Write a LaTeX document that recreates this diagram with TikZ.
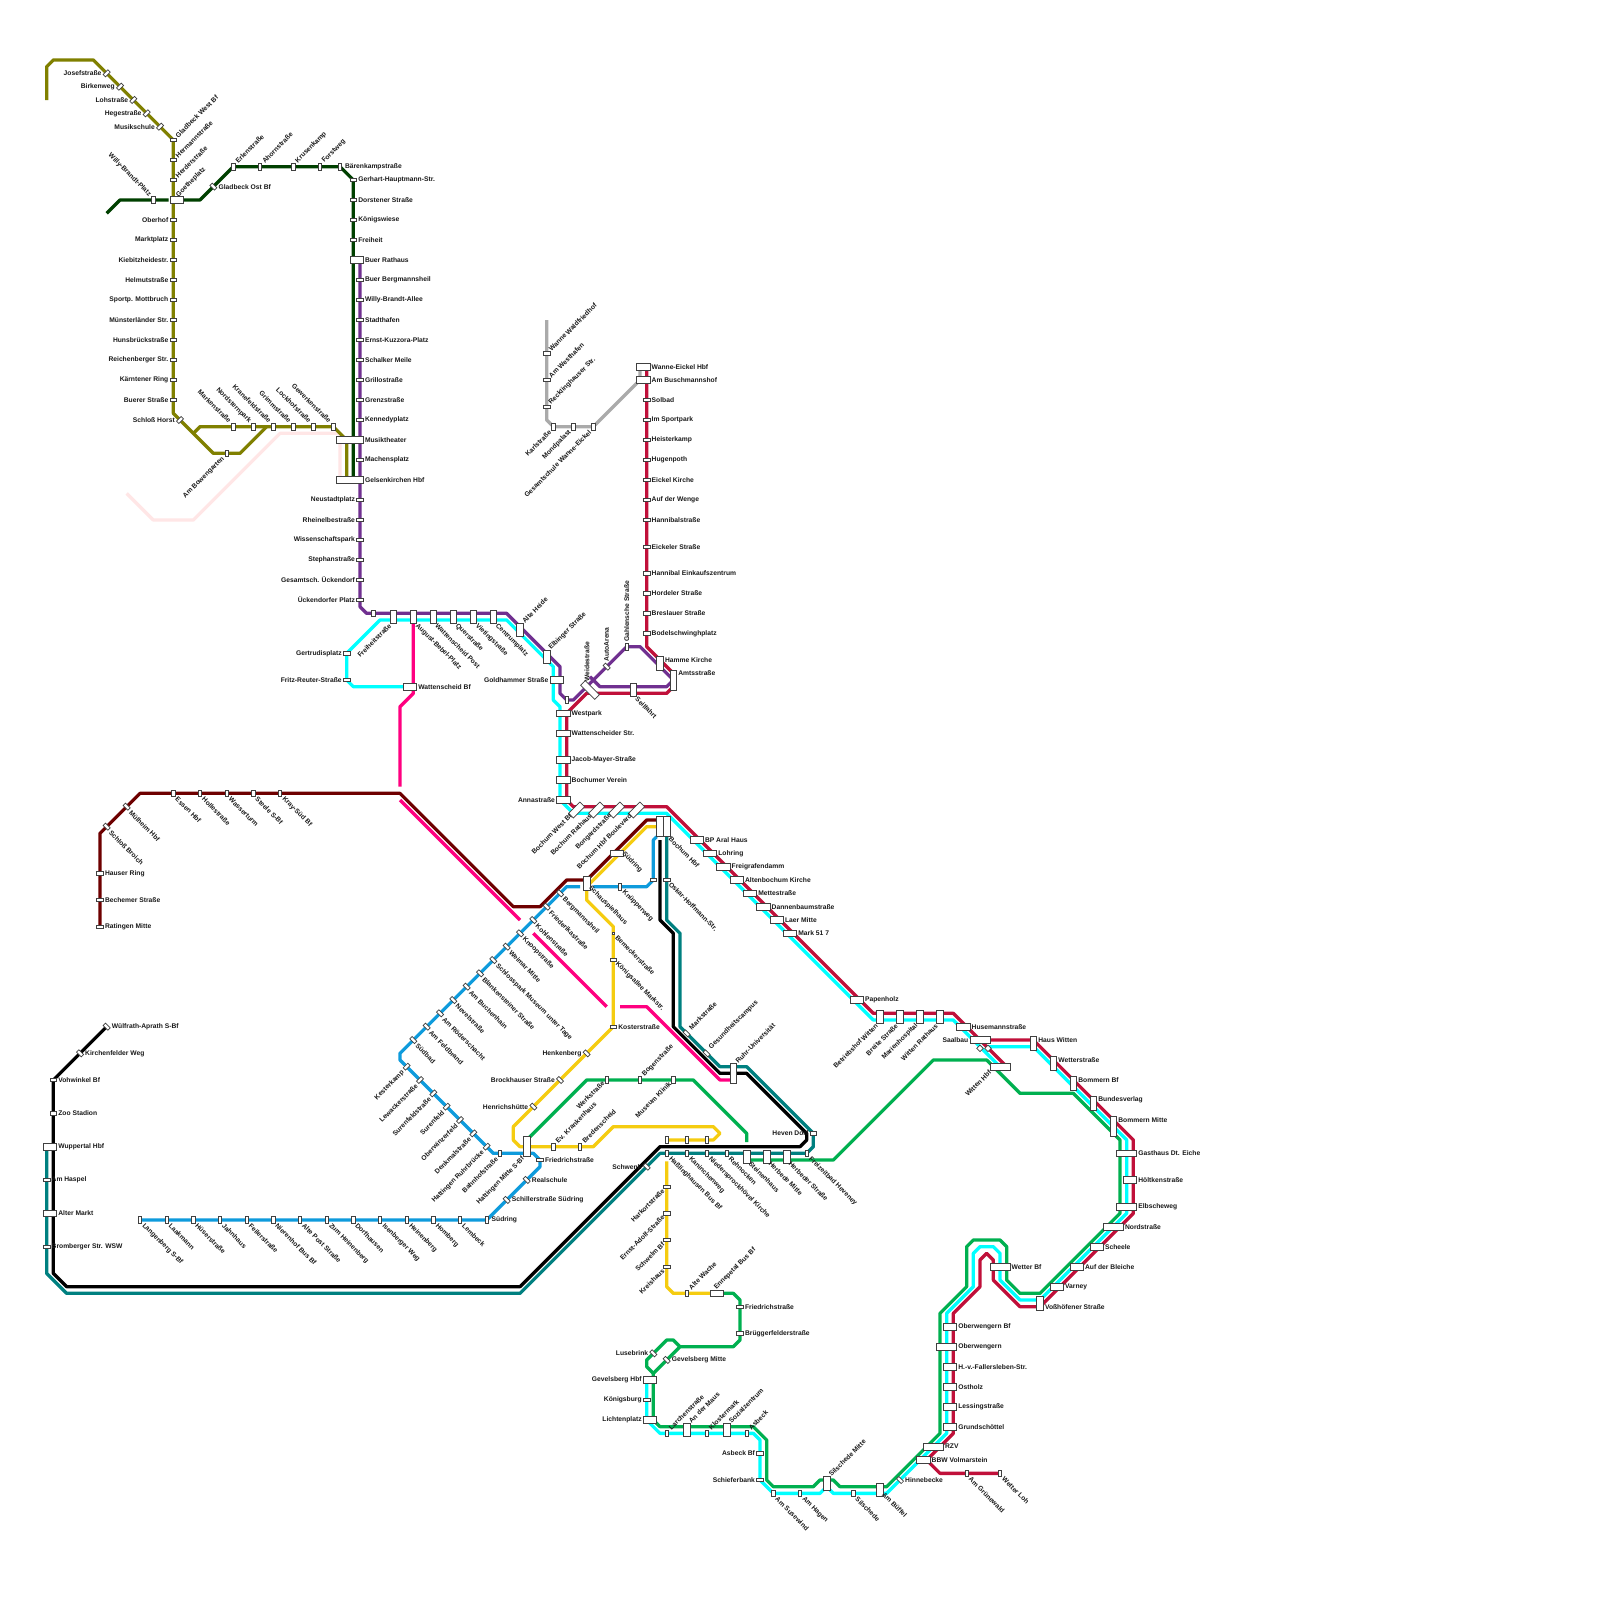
\documentclass[tikz,border=0pt]{standalone}
\usepackage{fontspec}
\setmainfont{Liberation Sans}
\definecolor{cOlive}{HTML}{808000}
\definecolor{cDkGreen}{HTML}{004000}
\definecolor{cPurple}{HTML}{703090}
\definecolor{cCrim}{HTML}{C0103A}
\definecolor{cCyan}{HTML}{00FFFF}
\definecolor{cGreen}{HTML}{00B050}
\definecolor{cYellow}{HTML}{F5CC10}
\definecolor{cBlue}{HTML}{0E9BDC}
\definecolor{cMag}{HTML}{FF0080}
\definecolor{cMaroon}{HTML}{6E0000}
\definecolor{cTeal}{HTML}{008080}
\definecolor{cGray}{HTML}{AAAAAA}
\definecolor{cPink}{HTML}{FFE6E6}
\tikzset{
  tk/.style={line width=3.3pt,line join=round},
  stn/.style={draw=black!75,fill=white,line width=.7pt,inner sep=0pt,outer sep=0pt},
  lbl/.style={font=\fontsize{6.72}{8}\selectfont\bfseries,text=black!90,inner sep=0pt,outer sep=0pt}
}
\newcount\stnum
\def\ldx{0}\def\ldy{0}
\newcommand\adj[2]{\def\ldx{#1}\def\ldy{#2}}
\newcommand\st[7]{%
  \global\advance\stnum by 1
  \node[stn,minimum width=#1*6.667pt,minimum height=#2*6.667pt,rotate=#3] (n\the\stnum) at (#4,#5) {};
  \pgfmathsetmacro\hx{(#3==0)?#1*3.333:(#1+#2)*2.357}
  \pgfmathsetmacro\hy{(#3==0)?#2*3.333:(#1+#2)*2.357}
  \pgfmathsetmacro\ox{max(\hx,3.3)}
  \pgfmathsetmacro\oy{max(\hy+1.5,3.3)}
  \pgfmathsetmacro\rx{max(\hx+1.7,5)}
  \pgfmathsetmacro\lxx{#4+\ldx}
  \pgfmathsetmacro\lyy{#5+\ldy}
  \csname lab#6\endcsname{\lxx}{\lyy}{#7}%
  \def\ldx{0}\def\ldy{0}}
\newcommand\labN[3]{}
\newcommand\labR[3]{\node[lbl,xshift=\rx pt,anchor=west] (l\the\stnum) at (#1,#2) {#3};}
\newcommand\labL[3]{\node[lbl,xshift=-\rx pt,anchor=east] (l\the\stnum) at (#1,#2) {#3};}
\newcommand\labUR[3]{\node[lbl,xshift=\ox pt,yshift=\oy pt,rotate=45,anchor=west] (l\the\stnum) at (#1,#2) {#3};}
\newcommand\labDR[3]{\node[lbl,xshift=\ox pt,yshift=-\oy pt,rotate=-45,anchor=west] (l\the\stnum) at (#1,#2) {#3};}
\newcommand\labDL[3]{\node[lbl,xshift=-\ox pt,yshift=-\oy pt,rotate=45,anchor=east] (l\the\stnum) at (#1,#2) {#3};}
\newcommand\labUL[3]{\node[lbl,xshift=-\ox pt,yshift=\oy pt,rotate=-45,anchor=east] (l\the\stnum) at (#1,#2) {#3};}
\newcommand\labUP[3]{\node[lbl,yshift=\oy pt,rotate=90,anchor=west] (l\the\stnum) at (#1,#2) {#3};}
\newcommand\sH[4]{\st{1}{.5}{0}{#1}{#2}{#3}{#4}}
\newcommand\sV[4]{\st{.5}{1}{0}{#1}{#2}{#3}{#4}}
\newcommand\sA[4]{\st{1}{.5}{45}{#1}{#2}{#3}{#4}}
\newcommand\sB[4]{\st{1}{.5}{-45}{#1}{#2}{#3}{#4}}
\newcommand\wB[4]{\st{2}{1}{0}{#1}{#2}{#3}{#4}}
\newcommand\wC[4]{\st{3}{1}{0}{#1}{#2}{#3}{#4}}
\newcommand\wD[4]{\st{4}{1}{0}{#1}{#2}{#3}{#4}}
\newcommand\vB[4]{\st{1}{2}{0}{#1}{#2}{#3}{#4}}
\newcommand\vC[4]{\st{1}{3}{0}{#1}{#2}{#3}{#4}}
\begin{document}
\begin{tikzpicture}[x=6.6667pt,y=-6.6667pt]
\useasboundingbox (0,0) rectangle (240,240);
\fill[white] (0,0) rectangle (240,240);
% ---------- lines
\draw[tk,cPink] (19,74)--(23,78)--(29,78)--(42,65)--(51,65)--(51,72);
\draw[tk,cGray] (82,48)--(82,63)--(83,64)--(89,64)--(96,57)--(96,55);
\draw[tk,cDkGreen] (16,32)--(18,30)--(25.3,30);
\draw[tk,cDkGreen] (27,30)--(30,30)--(35,25)--(51,25)--(53,27)--(53,72);
\draw[tk,cOlive] (7,15)--(7,10)--(8,9)--(14,9)--(26,21)--(26,62)--(32,68)--(36,68)--(40,64);
\draw[tk,cOlive] (29,65)--(30,64)--(50,64)--(52,66)--(52,72);
\draw[tk,cPurple] (54,39)--(54,91)--(55,92)--(76,92)--(84,100)--(84,104)--(85,105)--(86,105)--(94,97)--(96,97)--(101,102)--(100,103)--(90,103)--(88.5,101.5);
\draw[tk,cCyan] (60.5,103)--(53,103)--(52,102)--(52,98)--(57,93)--(76,93)--(83,100)--(83,105)--(84,106)--(84,120)--(86,122)--(100,122)--(131,153)--(143,153)--(150.5,160.5);
\draw[tk,cCyan] (148,157)--(155,157)--(169,171)--(169,182)--(156,195)--(153,195)--(150,192)--(150,188)--(149,187)--(147,187)--(146,188)--(146,193)--(142,197)--(142,215)--(133,224)--(125,224)--(124,223)--(123,224)--(116,224)--(114,222)--(114,216)--(113,215)--(99,215)--(97,213)--(97,207);
\draw[tk,cCrim] (97,55)--(97,97)--(101,101)--(101,103)--(100,104)--(88,104)--(85,107)--(85,120)--(86,121)--(100,121)--(131,152)--(143,152)--(151,160);
\draw[tk,cCrim] (148,156)--(155,156)--(170,171)--(170,182)--(156,196)--(153,196)--(149,192)--(149,189)--(148,188)--(147,189)--(147,193)--(143,197)--(143,215)--(139,219)--(141,221)--(150,221);
\draw[tk,cGreen] (106.5,194)--(110,194)--(111,195)--(111,201)--(110,202)--(102,202)--(98,206)--(98,213)--(99,214)--(113,214)--(115,216)--(115,222)--(116,223)--(122,223)--(123,222)--(125,222)--(126,223)--(133,223)--(141,215)--(141,197)--(145,193)--(145,187)--(146,186)--(150,186)--(151,187)--(151,192)--(153,194)--(156,194)--(168,182)--(168,171)--(161,164)--(153,164)--(148,159)--(140,159)--(125,174)--(112,174);
\draw[tk,cGreen] (98,206)--(97,205)--(97,204)--(100,201)--(101,201)--(102,202);
\draw[tk,cGreen] (79,171)--(88,162)--(104,162)--(112,170)--(112,171.3);
\draw[tk,cMaroon] (15,139)--(15,125)--(21,119)--(60,119)--(77,136)--(81,136)--(85,132)--(88,132)--(97,123)--(98.5,123);
\draw[tk,cMag] (62,93.5)--(62,104)--(60,106)--(60,118);
\draw[tk,cMag] (60,120)--(78,138);
\draw[tk,cMag] (80,140)--(91,151);
\draw[tk,cMag] (93,151)--(97,151)--(108,162)--(109.5,162);
\draw[tk,cYellow] (98.5,124)--(97,124)--(88,133)--(88,135)--(92,139)--(92,154)--(77,169)--(77,171)--(78,172)--(89,172)--(92,169)--(107,169)--(108,170)--(107,171)--(100,171);
\draw[tk,cYellow] (100,174.2)--(100,193)--(101,194)--(106.5,194);
\draw[tk,cBlue] (98.5,125.5)--(98,126)--(98,132)--(97,133)--(89,133);
\draw[tk,cBlue] (87,133)--(85,133)--(60,158)--(60,159)--(74,173)--(80,173)--(81,174)--(81,175)--(73,183)--(21,183);
\draw[tk,cTeal] (100,125)--(100,138)--(102,140)--(102,154)--(108,160)--(112,160)--(122,170)--(122,172)--(121,173)--(99,173)--(78,194)--(10,194)--(7,191)--(7,172);
\draw[tk,black] (99,126)--(99,138)--(101,140)--(101,154)--(108,161)--(112,161)--(121,170)--(121,171)--(120,172)--(99,172)--(78,193)--(10,193)--(8,191)--(8,162)--(16,154);
% ---------- olive
\sA{16}{11}{L}{Josefstraße}
\sA{18}{13}{L}{Birkenweg}
\sA{20}{15}{L}{Lohstraße}
\sA{22}{17}{L}{Hegestraße}
\sA{24}{19}{L}{Musikschule}
\sH{26}{21}{UR}{Gladbeck West Bf}
\sH{26}{24}{UR}{Hermannstraße}
\sH{26}{27}{UR}{Herderstraße}
\adj{-.9}{.1}\wB{26.5}{30}{UR}{Goetheplatz}
\sV{23}{30}{UL}{Willy-Brandt-Platz}
\sH{26}{33}{L}{Oberhof}
\sH{26}{36}{L}{Marktplatz}
\sH{26}{39}{L}{Kiebitzheidestr.}
\sH{26}{42}{L}{Helmutstraße}
\sH{26}{45}{L}{Sportp. Mottbruch}
\sH{26}{48}{L}{Münsterländer Str.}
\sH{26}{51}{L}{Hunsbrückstraße}
\sH{26}{54}{L}{Reichenberger Str.}
\sH{26}{57}{L}{Kärntener Ring}
\sH{26}{60}{L}{Buerer Straße}
\sA{27}{63}{L}{Schloß Horst}
\sV{35}{64}{UL}{Markenstraße}
\sV{38}{64}{UL}{Nordsternpark}
\sV{41}{64}{UL}{Kranefeldstraße}
\sV{44}{64}{UL}{Grimmstraße}
\sV{47}{64}{UL}{Lockhofstraße}
\sV{50}{64}{UL}{Gewerkenstraße}
\sV{34}{68}{DL}{Am Bowengarten}
% ---------- dark green
\sB{32}{28}{R}{Gladbeck Ost Bf}
\sV{35}{25}{UR}{Erlenstraße}
\sV{39}{25}{UR}{Ahornstraße}
\sV{44}{25}{UR}{Krusenkamp}
\sV{48}{25}{UR}{Forstweg}
\sV{51}{25}{R}{Bärenkampstraße}
\sH{53}{27}{R}{Gerhart-Hauptmann-Str.}
\sH{53}{30}{R}{Dorstener Straße}
\sH{53}{33}{R}{Königswiese}
\sH{53}{36}{R}{Freiheit}
\wB{53.5}{39}{R}{Buer Rathaus}
% ---------- purple
\sH{54}{42}{R}{Buer Bergmannsheil}
\sH{54}{45}{R}{Willy-Brandt-Allee}
\sH{54}{48}{R}{Stadthafen}
\sH{54}{51}{R}{Ernst-Kuzzora-Platz}
\sH{54}{54}{R}{Schalker Meile}
\sH{54}{57}{R}{Grillostraße}
\sH{54}{60}{R}{Grenzstraße}
\sH{54}{63}{R}{Kennedyplatz}
\wD{52.5}{66}{R}{Musiktheater}
\sH{54}{69}{R}{Machensplatz}
\wD{52.5}{72}{R}{Gelsenkirchen Hbf}
\sH{54}{75}{L}{Neustadtplatz}
\sH{54}{78}{L}{Rheinelbestraße}
\sH{54}{81}{L}{Wissenschaftspark}
\sH{54}{84}{L}{Stephanstraße}
\sH{54}{87}{L}{Gesamtsch. Ückendorf}
\sH{54}{90}{L}{Ückendorfer Platz}
\sV{56}{92}{N}{}
\vB{59}{92.5}{DL}{Freiheitstraße}
\vB{62}{92.5}{DR}{August-Bebel-Platz}
\vB{65}{92.5}{DR}{Wattenscheid Post}
\vB{68}{92.5}{DR}{Querstraße}
\vB{71}{92.5}{DR}{Vietingstraße}
\vB{74}{92.5}{DR}{Centrumplatz}
\vB{78}{94.5}{UR}{Alte Heide}
\vB{82}{98.5}{UR}{Elbinger Straße}
\wB{83.5}{102}{L}{Goldhammer Straße}
\sV{85}{105}{N}{}
\adj{-.45}{.4}\st{3}{1}{-45}{88.5}{103.5}{UP}{Weidestraße}
\sB{91}{100}{UP}{AutoArena}
\sV{94}{97}{UP}{Gahlensche Straße}
\vB{95}{103.5}{DR}{Seilfahrt}
\adj{0}{-.5}\vB{99}{99.5}{R}{Hamme Kirche}
\adj{0}{-1}\vC{101}{102}{R}{Amtsstraße}
\sH{52}{98}{L}{Gertrudisplatz}
\sH{52}{102}{L}{Fritz-Reuter-Straße}
\wB{61.5}{103}{R}{Wattenscheid Bf}
% ---------- gray, crimson north
\sH{82}{53}{UR}{Wanne Waldfriedhof}
\sH{82}{57}{UR}{Am Westhafen}
\sH{82}{61}{UR}{Recklinghauser Str.}
\sV{83}{64}{DL}{Karlstraße}
\sV{86}{64}{DL}{Mondpalast}
\sV{89}{64}{DL}{Gesamtschule Wanne-Eickel}
\wB{96.5}{55}{R}{Wanne-Eickel Hbf}
\wB{96.5}{57}{R}{Am Buschmannshof}
\sH{97}{60}{R}{Solbad}
\sH{97}{63}{R}{Im Sportpark}
\sH{97}{66}{R}{Heisterkamp}
\sH{97}{69}{R}{Hugenpoth}
\sH{97}{72}{R}{Eickel Kirche}
\sH{97}{75}{R}{Auf der Wenge}
\sH{97}{78}{R}{Hannibalstraße}
\sH{97}{82}{R}{Eickeler Straße}
\sH{97}{86}{R}{Hannibal Einkaufszentrum}
\sH{97}{89}{R}{Hordeler Straße}
\sH{97}{92}{R}{Breslauer Straße}
\sH{97}{95}{R}{Bodelschwinghplatz}
% ---------- Bochum
\wB{84.5}{107}{R}{Westpark}
\wB{84.5}{110}{R}{Wattenscheider Str.}
\wB{84.5}{114}{R}{Jacob-Mayer-Straße}
\wB{84.5}{117}{R}{Bochumer Verein}
\wB{84.5}{120}{L}{Annastraße}
\adj{.3}{-.7}\st{2.4}{1}{45}{86.5}{121.5}{DL}{Bochum West Bf}
\adj{.3}{-.7}\st{2.4}{1}{45}{89.5}{121.5}{DL}{Bochum Rathaus}
\adj{.3}{-.7}\st{2.4}{1}{45}{92.5}{121.5}{DL}{Bongardstraße}
\adj{.3}{-.7}\st{2.4}{1}{45}{95.5}{121.5}{DL}{Bochum Hbf Boulevard}
\vC{99}{124}{N}{}
\vC{100}{124}{DR}{Bochum Hbf}
\adj{0}{-.7}\wB{92.5}{128}{DR}{Südring}
\adj{0}{-.6}\vB{88}{132.5}{DR}{Schauspielhaus}
\sV{93}{133}{DR}{Knüpperweg}
\sH{98}{132}{N}{}
\sH{100}{132}{DR}{Oskar-Hoffmann-Str.}
\wB{104.5}{126}{R}{BP Aral Haus}
\wB{106.5}{128}{R}{Lohring}
\wB{108.5}{130}{R}{Freigrafendamm}
\wB{110.5}{132}{R}{Altenbochum Kirche}
\wB{112.5}{134}{R}{Mettestraße}
\wB{114.5}{136}{R}{Dannenbaumstraße}
\wB{116.5}{138}{R}{Laer Mitte}
\wB{118.5}{140}{R}{Mark 51 7}
\wB{128.5}{150}{R}{Papenholz}
\vB{132}{152.5}{DL}{Betriebshof Witten}
\vB{135}{152.5}{DL}{Breite Straße}
\vB{138}{152.5}{DL}{Marienhospital}
\vB{141}{152.5}{DL}{Witten Rathaus}
\wB{144.5}{154}{R}{Husemannstraße}
\st{.7}{.7}{45}{147}{157.25}{N}{}
\st{.7}{.7}{45}{148.2}{157.25}{N}{}
\wC{147}{156}{L}{Saalbau}
\wC{150}{160}{DL}{Witten Hbf}
\adj{0}{-.5}\vB{155}{156.5}{R}{Haus Witten}
\adj{0}{-.5}\vB{158}{159.5}{R}{Wetterstraße}
\adj{0}{-.5}\vB{161}{162.5}{R}{Bommern Bf}
\adj{0}{-.5}\vB{164}{165.5}{R}{Bundesverlag}
\adj{0}{-1}\vC{167}{169}{R}{Bommern Mitte}
\wC{169}{173}{R}{Gasthaus Dt. Eiche}
\wB{169.5}{177}{R}{Höltkenstraße}
\wC{169}{181}{R}{Elbscheweg}
\wC{167}{184}{R}{Nordstraße}
\wB{164.5}{187}{R}{Scheele}
\wB{161.5}{190}{R}{Auf der Bleiche}
\wB{158.5}{193}{R}{Varney}
\adj{0}{.5}\vB{156}{195.5}{R}{Voßhöfener Straße}
\wC{150}{190}{R}{Wetter Bf}
\wB{142.5}{199}{R}{Oberwengern Bf}
\wC{142}{202}{R}{Oberwengern}
\wB{142.5}{205}{R}{H.-v.-Fallersleben-Str.}
\wB{142.5}{208}{R}{Ostholz}
\wB{142.5}{211}{R}{Lessingstraße}
\wB{142.5}{214}{R}{Grundschöttel}
\wC{140}{217}{R}{RZV}
\wB{138.5}{219}{R}{BBW Volmarstein}
\sV{145}{221}{DR}{Am Grünewald}
\sV{150}{221}{DR}{Wetter Loh}
\sB{135}{222}{R}{Hinnebecke}
\adj{0}{-.7}\vB{132}{223.5}{DR}{Am Büffel}
\sV{128}{224}{DR}{Silschede}
\vB{124}{222.5}{UR}{Silschede Mitte}
\sV{120}{224}{DR}{Am Hagen}
\sV{116}{224}{DR}{Am Susewind}
\sH{114}{222}{L}{Schieferbank}
\sH{114}{218}{L}{Asbeck Bf}
\sV{112}{215}{UR}{Asbeck}
\vB{109}{214.5}{UR}{Sozialzentrum}
\sV{106}{215}{UR}{Klostermark}
\vB{103}{214.5}{UR}{An der Maus}
\sV{100}{215}{UR}{Larchenstraße}
\wB{97.5}{213}{L}{Lichtenplatz}
\sH{97}{210}{L}{Königsburg}
\wB{97.5}{207}{L}{Gevelsberg Hbf}
\sB{100}{204}{R}{Gevelsberg Mitte}
\sB{98}{203}{L}{Lusebrink}
\sH{111}{200}{R}{Brüggerfelderstraße}
\sH{111}{196}{R}{Friedrichstraße}
\adj{-1.2}{0}\wB{107.5}{194}{UR}{Ennepetal Bus Bf}
\sV{103}{194}{UR}{Alte Wache}
\sH{100}{190}{DL}{Kreishaus}
\sH{100}{186}{DL}{Schwelm Bf}
\sH{100}{182}{DL}{Ernst-Adolf-Straße}
\sH{100}{178}{DL}{Harkortstraße}
% ---------- teal row
\sB{97}{175}{L}{Schwenk}
\sV{100}{173}{DR}{Haßlinghausen Bus Bf}
\sV{103}{173}{DR}{Kaninchenweg}
\sV{106}{173}{DR}{Niedersprockhövel Kirche}
\sV{109}{173}{DR}{Rehnocken}
\adj{0}{-.3}\vB{112}{173.5}{DR}{Steinenhaus}
\adj{0}{-.3}\vB{115}{173.5}{DR}{Herbede Mitte}
\adj{0}{-.3}\vB{118}{173.5}{DR}{Herbeder Straße}
\sV{121}{173}{DR}{Freizeitbad Heveney}
\sH{122}{170}{L}{Heven Dorf}
\vC{110}{161}{UR}{Ruhr-Universität}
\sB{106}{158}{UR}{Gesundheitscampus}
\sB{103}{155}{UR}{Markstraße}
\sV{100}{171}{N}{}
\sV{103}{171}{N}{}
\sV{106}{171}{N}{}
% ---------- yellow, green
\st{.35}{.35}{0}{92}{140}{DR}{Bemeckerstraße}
\sH{92}{144}{DR}{Königsallee Markstr.}
\sH{92}{154}{R}{Kosterstraße}
\sB{88}{158}{L}{Henkenberg}
\sB{84}{162}{L}{Brockhauser Straße}
\sB{80}{166}{L}{Henrichshütte}
\sV{83}{172}{UR}{Ev. Krankenhaus}
\sV{87}{172}{UR}{Bredenscheid}
\adj{0}{-.4}\sV{91}{162}{DL}{Werkstraße}
\sV{96}{162}{UR}{Bogenstraße}
\adj{0}{-.3}\sV{101}{162}{DL}{Museum Klinik}
% ---------- blue
\sB{84}{134}{DR}{Bergmannsheil}
\sB{82}{136}{DR}{Friederikastraße}
\sB{80}{138}{DR}{Kohlenstraße}
\sB{78}{140}{DR}{Knoopstraße}
\sB{76}{142}{DR}{Weimar Mitte}
\sB{74}{144}{DR}{Schlosspark Museum unter Tage}
\sB{72}{146}{DR}{Blankensteiner Straße}
\sB{70}{148}{DR}{Am Buchenhain}
\sB{68}{150}{DR}{Nevelstraße}
\sB{66}{152}{DR}{Am Röderschacht}
\sB{64}{154}{DR}{Am Feldbrand}
\sB{62}{156}{DR}{Südbad}
\sA{61}{160}{DL}{Kesterkamp}
\sA{63}{162}{DL}{Lewackerstraße}
\sA{65}{164}{DL}{Surenfeldstraße}
\sA{67}{166}{DL}{Surenfeld}
\sA{69}{168}{DL}{Oberwinzerfeld}
\sA{71}{170}{DL}{Denkmalstraße}
\sA{73}{172}{DL}{Hattingen Ruhrbrücke}
\sV{75}{173}{DL}{Bahnhofstraße}
\vC{79}{172}{DL}{Hattingen Mitte S-Bf}
\sH{81}{174}{R}{Friedrichstraße}
\sB{79}{177}{R}{Realschule}
\sB{76}{180}{R}{Schillerstraße Südring}
\sV{73}{183}{R}{Südring}
\sV{69}{183}{DR}{Lembeck}
\sV{65}{183}{DR}{Homberg}
\sV{61}{183}{DR}{Heinenberg}
\sV{57}{183}{DR}{Isenberger Weg}
\sV{53}{183}{DR}{Dorfhausen}
\sV{49}{183}{DR}{Zum Heinenberg}
\sV{45}{183}{DR}{Alte Post Straße}
\sV{41}{183}{DR}{Nierenhof Bus Bf}
\sV{37}{183}{DR}{Feilerstraße}
\sV{33}{183}{DR}{Jahnhaus}
\sV{29}{183}{DR}{Hüserstraße}
\sV{25}{183}{DR}{Laakmann}
\sV{21}{183}{DR}{Langenberg S-Bf}
% ---------- maroon
\sH{15}{139}{R}{Ratingen Mitte}
\sH{15}{135}{R}{Bechemer Straße}
\sH{15}{131}{R}{Hauser Ring}
\sB{16}{124}{DR}{Schloß Broich}
\sB{19}{121}{DR}{Mülheim Hbf}
\sV{26}{119}{DR}{Essen Hbf}
\sV{30}{119}{DR}{Hollestraße}
\sV{34}{119}{DR}{Wasserturm}
\sV{38}{119}{DR}{Steele S-Bf}
\sV{42}{119}{DR}{Kray-Süd Bf}
% ---------- Wuppertal
\sB{16}{154}{R}{Wülfrath-Aprath S-Bf}
\sB{12}{158}{R}{Kirchenfelder Weg}
\sH{8}{162}{R}{Vohwinkel Bf}
\sH{8}{167}{R}{Zoo Stadion}
\wB{7.5}{172}{R}{Wuppertal Hbf}
\sH{7}{177}{R}{Am Haspel}
\wB{7.5}{182}{R}{Alter Markt}
\sH{7}{187}{R}{Bromberger Str. WSW}
\end{tikzpicture}
\end{document}
